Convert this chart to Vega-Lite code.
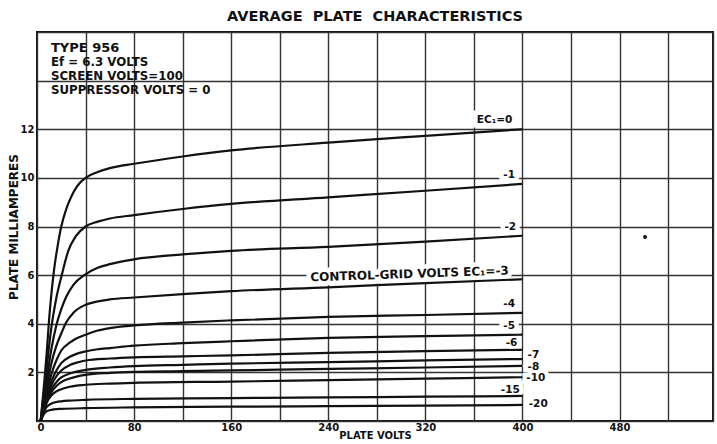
{
  "$schema": "https://vega.github.io/schema/vega-lite/v6.json",
  "width": 676,
  "height": 389,
  "autosize": "none",
  "padding": {"left": 37, "top": 32, "right": 4, "bottom": 23},
  "background": "white",
  "view": {"stroke": "#111", "strokeWidth": 2},
  "title": {"text": "AVERAGE\u00a0\u00a0PLATE\u00a0\u00a0CHARACTERISTICS", "anchor": "middle", "font": "DejaVu Sans", "fontSize": 14.5, "fontWeight": "bold", "color": "#111", "offset": 8},
  "config": {
    "view": {"stroke": "#111", "strokeWidth": 2},
    "axis": {"grid": true, "labelFont": "DejaVu Sans", "labelFontWeight": "bold", "labelFontSize": 10, "labelColor": "#111", "titleFont": "DejaVu Sans", "titleFontWeight": "bold", "titleFontSize": 12, "titleColor": "#111", "gridColor": "#333", "gridWidth": 1.4, "gridOpacity": 1, "ticks": false, "domain": false}
  },
  "datasets": {
    "curves": [
      {"ec":"0","v":3,"ma":0},{"ec":"0","v":6,"ma":1.6},{"ec":"0","v":8,"ma":2.8},{"ec":"0","v":10,"ma":4.2},{"ec":"0","v":12,"ma":5.3},{"ec":"0","v":14,"ma":6.2},{"ec":"0","v":17,"ma":7.2},{"ec":"0","v":20,"ma":8.0},{"ec":"0","v":24,"ma":8.7},{"ec":"0","v":28,"ma":9.2},{"ec":"0","v":33,"ma":9.65},{"ec":"0","v":40,"ma":10.0},{"ec":"0","v":50,"ma":10.24},{"ec":"0","v":60,"ma":10.4},{"ec":"0","v":80,"ma":10.58},{"ec":"0","v":120,"ma":10.88},{"ec":"0","v":160,"ma":11.13},{"ec":"0","v":240,"ma":11.45},{"ec":"0","v":320,"ma":11.73},{"ec":"0","v":400,"ma":12.0},
      {"ec":"-1","v":3,"ma":0},{"ec":"-1","v":6,"ma":1.3},{"ec":"-1","v":8,"ma":2.2},{"ec":"-1","v":10,"ma":3.1},{"ec":"-1","v":12,"ma":3.9},{"ec":"-1","v":15.7,"ma":5.0},{"ec":"-1","v":20.4,"ma":6.0},{"ec":"-1","v":25.8,"ma":7.0},{"ec":"-1","v":32,"ma":7.6},{"ec":"-1","v":40,"ma":8.0},{"ec":"-1","v":50,"ma":8.2},{"ec":"-1","v":60,"ma":8.33},{"ec":"-1","v":80,"ma":8.47},{"ec":"-1","v":120,"ma":8.72},{"ec":"-1","v":160,"ma":8.93},{"ec":"-1","v":240,"ma":9.2},{"ec":"-1","v":320,"ma":9.47},{"ec":"-1","v":400,"ma":9.75},
      {"ec":"-2","v":3,"ma":0},{"ec":"-2","v":6,"ma":1.0},{"ec":"-2","v":8,"ma":1.7},{"ec":"-2","v":12,"ma":3.0},{"ec":"-2","v":16,"ma":3.95},{"ec":"-2","v":20,"ma":4.6},{"ec":"-2","v":24,"ma":5.1},{"ec":"-2","v":30,"ma":5.6},{"ec":"-2","v":39,"ma":6.0},{"ec":"-2","v":50,"ma":6.3},{"ec":"-2","v":60,"ma":6.45},{"ec":"-2","v":80,"ma":6.65},{"ec":"-2","v":120,"ma":6.85},{"ec":"-2","v":160,"ma":7.0},{"ec":"-2","v":240,"ma":7.16},{"ec":"-2","v":320,"ma":7.38},{"ec":"-2","v":400,"ma":7.62},
      {"ec":"-3","v":3,"ma":0},{"ec":"-3","v":6,"ma":0.85},{"ec":"-3","v":8,"ma":1.4},{"ec":"-3","v":12,"ma":2.4},{"ec":"-3","v":16,"ma":3.1},{"ec":"-3","v":20,"ma":3.6},{"ec":"-3","v":24,"ma":4.05},{"ec":"-3","v":30,"ma":4.45},{"ec":"-3","v":40,"ma":4.78},{"ec":"-3","v":50,"ma":4.92},{"ec":"-3","v":60,"ma":5.0},{"ec":"-3","v":80,"ma":5.08},{"ec":"-3","v":120,"ma":5.22},{"ec":"-3","v":160,"ma":5.34},{"ec":"-3","v":240,"ma":5.5},{"ec":"-3","v":320,"ma":5.67},{"ec":"-3","v":400,"ma":5.83},
      {"ec":"-4","v":3,"ma":0},{"ec":"-4","v":6,"ma":0.75},{"ec":"-4","v":8,"ma":1.2},{"ec":"-4","v":12,"ma":1.95},{"ec":"-4","v":16,"ma":2.5},{"ec":"-4","v":20,"ma":2.9},{"ec":"-4","v":27,"ma":3.22},{"ec":"-4","v":32,"ma":3.38},{"ec":"-4","v":40,"ma":3.55},{"ec":"-4","v":50,"ma":3.72},{"ec":"-4","v":60,"ma":3.82},{"ec":"-4","v":80,"ma":3.93},{"ec":"-4","v":120,"ma":4.05},{"ec":"-4","v":160,"ma":4.14},{"ec":"-4","v":240,"ma":4.28},{"ec":"-4","v":320,"ma":4.36},{"ec":"-4","v":400,"ma":4.45},
      {"ec":"-5","v":3,"ma":0},{"ec":"-5","v":6,"ma":0.65},{"ec":"-5","v":8,"ma":1.05},{"ec":"-5","v":12,"ma":1.65},{"ec":"-5","v":16,"ma":2.08},{"ec":"-5","v":20,"ma":2.38},{"ec":"-5","v":27,"ma":2.64},{"ec":"-5","v":32,"ma":2.75},{"ec":"-5","v":40,"ma":2.86},{"ec":"-5","v":50,"ma":2.95},{"ec":"-5","v":60,"ma":3.0},{"ec":"-5","v":80,"ma":3.1},{"ec":"-5","v":120,"ma":3.2},{"ec":"-5","v":160,"ma":3.28},{"ec":"-5","v":240,"ma":3.42},{"ec":"-5","v":320,"ma":3.49},{"ec":"-5","v":400,"ma":3.55},
      {"ec":"-6","v":3,"ma":0},{"ec":"-6","v":6,"ma":0.6},{"ec":"-6","v":8,"ma":0.95},{"ec":"-6","v":12,"ma":1.48},{"ec":"-6","v":16,"ma":1.84},{"ec":"-6","v":20,"ma":2.08},{"ec":"-6","v":27,"ma":2.3},{"ec":"-6","v":32,"ma":2.39},{"ec":"-6","v":40,"ma":2.49},{"ec":"-6","v":60,"ma":2.57},{"ec":"-6","v":80,"ma":2.62},{"ec":"-6","v":120,"ma":2.66},{"ec":"-6","v":160,"ma":2.7},{"ec":"-6","v":240,"ma":2.8},{"ec":"-6","v":320,"ma":2.87},{"ec":"-6","v":400,"ma":2.93},
      {"ec":"-7","v":3,"ma":0},{"ec":"-7","v":6,"ma":0.55},{"ec":"-7","v":8,"ma":0.88},{"ec":"-7","v":12,"ma":1.32},{"ec":"-7","v":16,"ma":1.6},{"ec":"-7","v":20,"ma":1.79},{"ec":"-7","v":27,"ma":1.95},{"ec":"-7","v":40,"ma":2.1},{"ec":"-7","v":60,"ma":2.2},{"ec":"-7","v":80,"ma":2.26},{"ec":"-7","v":120,"ma":2.31},{"ec":"-7","v":160,"ma":2.36},{"ec":"-7","v":240,"ma":2.42},{"ec":"-7","v":320,"ma":2.49},{"ec":"-7","v":400,"ma":2.55},
      {"ec":"-8","v":3,"ma":0},{"ec":"-8","v":6,"ma":0.52},{"ec":"-8","v":8,"ma":0.82},{"ec":"-8","v":12,"ma":1.2},{"ec":"-8","v":16,"ma":1.44},{"ec":"-8","v":20,"ma":1.6},{"ec":"-8","v":27,"ma":1.75},{"ec":"-8","v":40,"ma":1.9},{"ec":"-8","v":60,"ma":1.98},{"ec":"-8","v":80,"ma":2.02},{"ec":"-8","v":120,"ma":2.05},{"ec":"-8","v":160,"ma":2.08},{"ec":"-8","v":240,"ma":2.14},{"ec":"-8","v":320,"ma":2.2},{"ec":"-8","v":400,"ma":2.27},
      {"ec":"-10","v":3,"ma":0},{"ec":"-10","v":6,"ma":0.48},{"ec":"-10","v":8,"ma":0.75},{"ec":"-10","v":12,"ma":1.06},{"ec":"-10","v":16,"ma":1.22},{"ec":"-10","v":20,"ma":1.31},{"ec":"-10","v":27,"ma":1.41},{"ec":"-10","v":40,"ma":1.49},{"ec":"-10","v":60,"ma":1.54},{"ec":"-10","v":80,"ma":1.57},{"ec":"-10","v":160,"ma":1.62},{"ec":"-10","v":240,"ma":1.68},{"ec":"-10","v":320,"ma":1.74},{"ec":"-10","v":400,"ma":1.8},
      {"ec":"-15","v":3,"ma":0},{"ec":"-15","v":6,"ma":0.4},{"ec":"-15","v":8,"ma":0.58},{"ec":"-15","v":12,"ma":0.72},{"ec":"-15","v":16,"ma":0.78},{"ec":"-15","v":20,"ma":0.81},{"ec":"-15","v":27,"ma":0.84},{"ec":"-15","v":40,"ma":0.87},{"ec":"-15","v":80,"ma":0.91},{"ec":"-15","v":160,"ma":0.94},{"ec":"-15","v":240,"ma":0.97},{"ec":"-15","v":320,"ma":1.0},{"ec":"-15","v":400,"ma":1.03},
      {"ec":"-20","v":3,"ma":0},{"ec":"-20","v":6,"ma":0.3},{"ec":"-20","v":8,"ma":0.4},{"ec":"-20","v":12,"ma":0.46},{"ec":"-20","v":16,"ma":0.49},{"ec":"-20","v":20,"ma":0.5},{"ec":"-20","v":40,"ma":0.53},{"ec":"-20","v":80,"ma":0.56},{"ec":"-20","v":160,"ma":0.59},{"ec":"-20","v":240,"ma":0.61},{"ec":"-20","v":320,"ma":0.63},{"ec":"-20","v":400,"ma":0.66}
    ],
    "labels": [
      {"text":"EC₁=0","v":377,"ma":12.37,"angle":0,"size":10.5},
      {"text":"-1","v":389,"ma":10.1,"angle":0,"size":10.5},
      {"text":"-2","v":390,"ma":8.0,"angle":0,"size":10.5},
      {"text":"CONTROL-GRID VOLTS EC₁=-3","v":307,"ma":6.05,"angle":358,"size":12},
      {"text":"-4","v":389,"ma":4.81,"angle":0,"size":10.5},
      {"text":"-5","v":389,"ma":3.91,"angle":0,"size":10.5},
      {"text":"-6","v":391,"ma":3.22,"angle":0,"size":10.5},
      {"text":"-7","v":409,"ma":2.72,"angle":0,"size":10.5},
      {"text":"-8","v":409,"ma":2.23,"angle":0,"size":10.5},
      {"text":"-10","v":411,"ma":1.76,"angle":0,"size":10.5},
      {"text":"-15","v":390,"ma":1.28,"angle":0,"size":10.5},
      {"text":"-20","v":413,"ma":0.7,"angle":0,"size":10.5}
    ],
    "notes": [
      {"text":"TYPE 956","v":11.5,"ma":15.19,"size":13},
      {"text":"Ef = 6.3 VOLTS","v":11.5,"ma":14.61,"size":11.8},
      {"text":"SCREEN VOLTS=100","v":11.5,"ma":14.03,"size":11.8},
      {"text":"SUPPRESSOR VOLTS = 0","v":11.5,"ma":13.46,"size":11.8}
    ],
    "specks": [{"v":501,"ma":7.57}]
  },
  "layer": [
    {
      "mark": {"type": "rect", "color": "white"},
      "encoding": {
        "x": {"datum": 0, "type": "quantitative", "scale": {"domain": [0, 557], "nice": false, "zero": false},
          "axis": {"grid": true, "values": [0,40,80,120,160,200,240,280,320,360,400,440,480,520,557], "labelExpr": "datum.value % 80 === 0 ? datum.label : ''", "labelPadding": 1, "title": "PLATE VOLTS", "titleFontSize": 10, "titlePadding": -2}},
        "x2": {"datum": 159},
        "y": {"datum": 13.1, "type": "quantitative", "scale": {"domain": [0, 16], "nice": false, "zero": false},
          "axis": {"grid": true, "values": [0,2,4,6,8,10,12,14,16], "labelExpr": "datum.value >= 2 && datum.value <= 12 ? datum.label : ''", "labelPadding": 3, "title": "PLATE MILLIAMPERES", "titlePadding": 0}},
        "y2": {"datum": 16}
      }
    },
    {
      "data": {"name": "labels"},
      "mark": {"type": "text", "font": "DejaVu Sans", "fontWeight": "bold", "color": "white", "stroke": "white", "strokeWidth": 9, "align": "center", "baseline": "middle"},
      "encoding": {
        "x": {"field": "v", "type": "quantitative"},
        "y": {"field": "ma", "type": "quantitative"},
        "text": {"field": "text"},
        "size": {"field": "size", "type": "quantitative", "scale": null},
        "angle": {"field": "angle", "type": "quantitative", "scale": null}
      }
    },
    {
      "data": {"name": "curves"},
      "mark": {"type": "line", "color": "#111", "strokeWidth": 2.2, "interpolate": "monotone"},
      "encoding": {
        "x": {"field": "v", "type": "quantitative"},
        "y": {"field": "ma", "type": "quantitative"},
        "detail": {"field": "ec", "type": "nominal"}
      }
    },
    {
      "data": {"name": "labels"},
      "mark": {"type": "text", "font": "DejaVu Sans", "fontWeight": "bold", "color": "#111", "align": "center", "baseline": "middle"},
      "encoding": {
        "x": {"field": "v", "type": "quantitative"},
        "y": {"field": "ma", "type": "quantitative"},
        "text": {"field": "text"},
        "size": {"field": "size", "type": "quantitative", "scale": null},
        "angle": {"field": "angle", "type": "quantitative", "scale": null}
      }
    },
    {
      "data": {"name": "notes"},
      "mark": {"type": "text", "font": "DejaVu Sans", "fontWeight": "bold", "color": "#111", "align": "left", "baseline": "alphabetic"},
      "encoding": {
        "x": {"field": "v", "type": "quantitative"},
        "y": {"field": "ma", "type": "quantitative"},
        "text": {"field": "text"},
        "size": {"field": "size", "type": "quantitative", "scale": null}
      }
    },
    {
      "data": {"name": "specks"},
      "mark": {"type": "point", "filled": true, "color": "#111", "size": 16, "opacity": 1},
      "encoding": {
        "x": {"field": "v", "type": "quantitative"},
        "y": {"field": "ma", "type": "quantitative"}
      }
    },
    {
      "mark": {"type": "text", "font": "DejaVu Sans", "fontWeight": "bold", "fontSize": 11, "color": "#111", "align": "right", "baseline": "alphabetic"},
      "encoding": {
        "x": {"datum": 557},
        "y": {"datum": -0.78},
        "text": {"value": "92C-4671"}
      }
    }
  ]
}
